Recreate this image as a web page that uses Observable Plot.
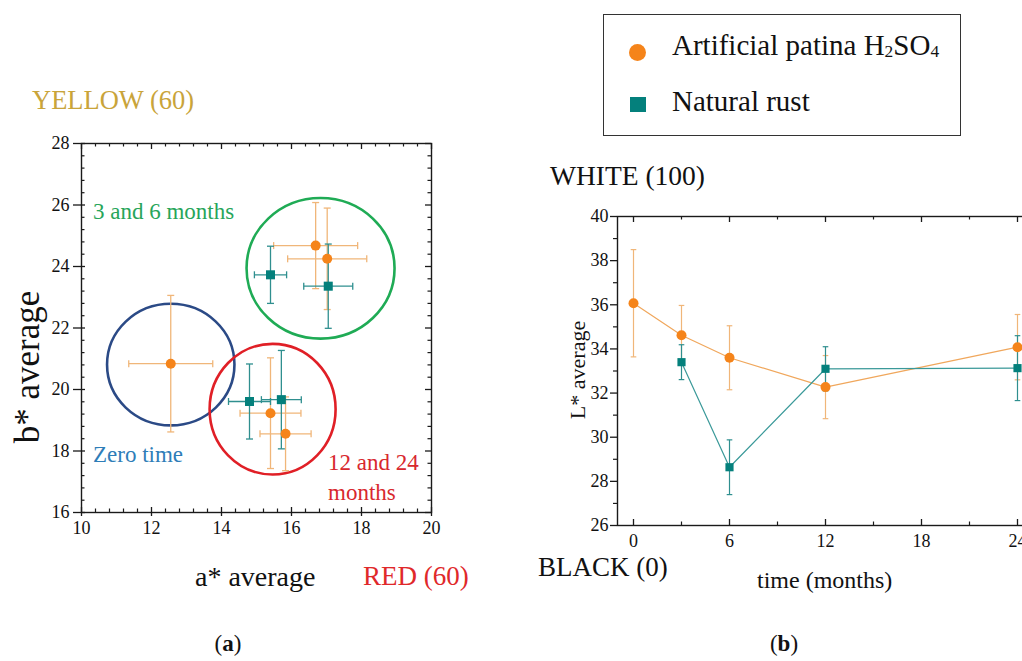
<!DOCTYPE html>
<html><head><meta charset="utf-8">
<script src="https://cdn.jsdelivr.net/npm/d3@7"></script>
<script src="https://cdn.jsdelivr.net/npm/@observablehq/plot@0.6"></script>
<style>
html,body{margin:0;padding:0;background:#fff;overflow:hidden}
#wrap{position:relative;width:1022px;height:661px;overflow:hidden;font-family:"Liberation Serif",serif;color:#111}
#wrap svg{position:absolute}
.lbl{position:absolute;white-space:nowrap;line-height:1}
.lbl sub{font-size:0.6em;vertical-align:-0.12em;line-height:0}
</style></head><body><div id="wrap"></div>
<script>
// ---------- Panel (a): b* vs a* ----------
const xTicksA = [10, 12, 14, 16, 18, 20];
const yTicksA = [16, 18, 20, 22, 24, 26, 28];
// Artificial patina H2SO4 (0, 3, 6, 12, 24 months)
const artA    = [12.55, 16.69, 17.02, 15.40, 15.83];
const artB    = [20.84, 24.68, 24.25, 19.23, 18.56];
const artAErr = [1.20, 1.20, 1.13, 0.87, 0.73];
const artBErr = [2.22, 1.40, 1.65, 1.80, 1.20];
// Natural rust (3, 6, 12, 24 months)
const natA    = [15.40, 17.05, 14.80, 15.71];
const natB    = [23.73, 23.36, 19.61, 19.67];
const natAErr = [0.46, 0.70, 0.60, 0.57];
const natBErr = [0.93, 1.37, 1.22, 1.60];
// Group outlines
const groupNames = ["Zero time", "3 and 6 months", "12 and 24 months"];
const groupA = [12.55, 16.83, 15.46];
const groupB = [20.81, 23.94, 19.36];

// ---------- Panel (b): L* vs time ----------
const xTicksB = [0, 6, 12, 18, 24];
const yTicksB = [26, 28, 30, 32, 34, 36, 38, 40];
const artT = [0, 3, 6, 12, 24];
const artL = [36.07, 34.62, 33.60, 32.27, 34.08];
const artLErr = [2.43, 1.35, 1.45, 1.43, 1.48];
const natT = [3, 6, 12, 24];
const natL = [33.40, 28.64, 33.10, 33.13];
const natLErr = [0.79, 1.24, 1.00, 1.47];

const seriesNames = ["Artificial patina H2SO4", "Natural rust"];

// ---------- styles ----------
const ORANGE = "#f5841a", ORANGE_BAR = "#f0b679", ORANGE_LINE = "#f0a75c";
const TEAL = "#04807c", TEAL_BAR = "#2f8f8f", TEAL_LINE = "#3a9999";
const TICK_FONT = 18;
const groupStyle = {
  "Zero time": {stroke: "#2b4a86", rx: 63.7, ry: 60.8},
  "3 and 6 months": {stroke: "#1fab55", rx: 74, ry: 70.3},
  "12 and 24 months": {stroke: "#e01f26", rx: 63, ry: 65.3}
};

function ellipseSymbol(rx, ry) {
  const k = 0.5522847498;
  return {draw(ctx) {
    ctx.moveTo(rx, 0);
    ctx.bezierCurveTo(rx, ry * k, rx * k, ry, 0, ry);
    ctx.bezierCurveTo(-rx * k, ry, -rx, ry * k, -rx, 0);
    ctx.bezierCurveTo(-rx, -ry * k, -rx * k, -ry, 0, -ry);
    ctx.bezierCurveTo(rx * k, -ry, rx, -ry * k, rx, 0);
    ctx.closePath();
  }};
}
const capH = {draw(ctx, size) { const r = Math.sqrt(size / Math.PI); ctx.moveTo(-r, 0); ctx.lineTo(r, 0); }};
const capV = {draw(ctx, size) { const r = Math.sqrt(size / Math.PI); ctx.moveTo(0, -r); ctx.lineTo(0, r); }};

const artRowsA = artA.map((a, i) => ({a, b: artB[i], ea: artAErr[i], eb: artBErr[i]}));
const natRowsA = natA.map((a, i) => ({a, b: natB[i], ea: natAErr[i], eb: natBErr[i]}));
const groupRows = groupNames.map((name, i) => ({name, a: groupA[i], b: groupB[i]}));

function errMarksA(rows, color, cap) {
  return [
    Plot.link(rows, {x1: d => d.a - d.ea, x2: d => d.a + d.ea, y1: "b", y2: "b", stroke: color, strokeWidth: 1.3}),
    Plot.link(rows, {x1: "a", x2: "a", y1: d => d.b - d.eb, y2: d => d.b + d.eb, stroke: color, strokeWidth: 1.3}),
    Plot.dot(rows, {x: d => d.a - d.ea, y: "b", symbol: capV, r: cap, stroke: color, fill: "none", strokeWidth: 1.3}),
    Plot.dot(rows, {x: d => d.a + d.ea, y: "b", symbol: capV, r: cap, stroke: color, fill: "none", strokeWidth: 1.3}),
    Plot.dot(rows, {x: "a", y: d => d.b - d.eb, symbol: capH, r: cap, stroke: color, fill: "none", strokeWidth: 1.3}),
    Plot.dot(rows, {x: "a", y: d => d.b + d.eb, symbol: capH, r: cap, stroke: color, fill: "none", strokeWidth: 1.3})
  ];
}

const mTop = 143, mLeft = 81, wA = 460, hA = 545, innerWA = 350, innerHA = 369;
const minorXA = d3.range(0, 26).map(i => 10 + i * 0.4).filter((v, i) => i % 5 !== 0);
const minorYA = d3.range(0, 31).map(i => 16 + i * 0.4).filter((v, i) => i % 5 !== 0);
const AX = "#1a1a1a";

const plotA = Plot.plot({
  width: wA, height: hA,
  marginLeft: mLeft, marginRight: wA - mLeft - innerWA, marginTop: mTop, marginBottom: hA - mTop - innerHA,
  x: {domain: [10, 20]},
  y: {domain: [16, 28]},
  style: {fontFamily: "Liberation Serif", fontSize: TICK_FONT + "px", color: "#111", background: "transparent", overflow: "visible"},
  marks: [
    Plot.frame({stroke: AX, strokeWidth: 1.4}),
    // inner ticks
    Plot.tickX(minorXA, {x: d => d, insetTop: innerHA - 3.5, stroke: AX, strokeWidth: 1.2}),
    Plot.tickX(minorXA, {x: d => d, insetBottom: innerHA - 3.5, stroke: AX, strokeWidth: 1.2}),
    Plot.tickX(xTicksA, {x: d => d, insetTop: innerHA - 5, stroke: AX, strokeWidth: 1.3}),
    Plot.tickX(xTicksA, {x: d => d, insetBottom: innerHA - 6, stroke: AX, strokeWidth: 1.3}),
    Plot.tickY(minorYA, {y: d => d, insetRight: innerWA - 3.5, stroke: AX, strokeWidth: 1.2}),
    Plot.tickY(minorYA, {y: d => d, insetLeft: innerWA - 3.5, stroke: AX, strokeWidth: 1.2}),
    Plot.tickY(yTicksA, {y: d => d, insetRight: innerWA - 4, stroke: AX, strokeWidth: 1.3}),
    Plot.tickY(yTicksA, {y: d => d, insetLeft: innerWA - 6, stroke: AX, strokeWidth: 1.3}),
    Plot.axisX({ticks: xTicksA, tickSize: 4, tickPadding: 5, label: null, fontSize: TICK_FONT, stroke: AX, strokeWidth: 1.3}),
    Plot.axisY({ticks: yTicksA, tickSize: 8, tickPadding: 4, label: null, fontSize: TICK_FONT, stroke: AX, strokeWidth: 1.3}),
    // group outlines
    ...groupRows.map(g => Plot.dot([g], {x: "a", y: "b", symbol: ellipseSymbol(groupStyle[g.name].rx, groupStyle[g.name].ry), r: 10, stroke: groupStyle[g.name].stroke, strokeWidth: 2.6, fill: "none"})),
    ...errMarksA(artRowsA, ORANGE_BAR, 3.5),
    ...errMarksA(natRowsA, TEAL_BAR, 3.5),
    Plot.dot(artRowsA, {x: "a", y: "b", r: 5, symbol: "circle", fill: ORANGE}),
    Plot.dot(natRowsA, {x: "a", y: "b", r: 5.1, symbol: "square", fill: TEAL})
  ]
});
plotA.style.left = "0px"; plotA.style.top = "0px";

// ---------- Panel (b) ----------
const bLeft = 560, bTop = 190, mLeftB = 57, mTopB = 26, innerWB = 416, innerHB = 309;
const wB = mLeftB + innerWB + 10, hB = mTopB + innerHB + 30;
const minorXB = [3, 9, 15, 21];
const minorYB = [27, 29, 31, 33, 35, 37, 39];
const artRowsB = artT.map((t, i) => ({t, L: artL[i], e: artLErr[i]}));
const natRowsB = natT.map((t, i) => ({t, L: natL[i], e: natLErr[i]}));
function errMarksB(rows, color) {
  return [
    Plot.link(rows, {x1: "t", x2: "t", y1: d => d.L - d.e, y2: d => d.L + d.e, stroke: color, strokeWidth: 1.2}),
    Plot.dot(rows, {x: "t", y: d => d.L - d.e, symbol: capH, r: 2.8, stroke: color, fill: "none", strokeWidth: 1.2}),
    Plot.dot(rows, {x: "t", y: d => d.L + d.e, symbol: capH, r: 2.8, stroke: color, fill: "none", strokeWidth: 1.2})
  ];
}
const plotB = Plot.plot({
  width: wB, height: hB,
  marginLeft: mLeftB, marginRight: 10, marginTop: mTopB, marginBottom: hB - mTopB - innerHB,
  x: {domain: [-1, 25]},
  y: {domain: [26, 40]},
  style: {fontFamily: "Liberation Serif", fontSize: TICK_FONT + "px", color: "#111", background: "transparent", overflow: "visible"},
  marks: [
    Plot.frame({stroke: AX, strokeWidth: 1.4}),
    Plot.tickX(xTicksB, {x: d => d, insetTop: innerHB - 6, stroke: AX, strokeWidth: 1.3}),
    Plot.tickX(xTicksB, {x: d => d, insetBottom: innerHB - 6, stroke: AX, strokeWidth: 1.3}),
    Plot.tickX(minorXB, {x: d => d, insetTop: innerHB - 3.5, stroke: AX, strokeWidth: 1.2}),
    Plot.tickX(minorXB, {x: d => d, insetBottom: innerHB - 3.5, stroke: AX, strokeWidth: 1.2}),
    Plot.axisY(minorYB, {tickSize: 4, text: null, label: null, stroke: AX, strokeWidth: 1.2}),
    Plot.axisY({ticks: yTicksB, tickSize: 7, tickPadding: 2, label: null, fontSize: TICK_FONT, stroke: AX, strokeWidth: 1.3}),
    Plot.axisX({ticks: xTicksB, tickSize: 0, tickPadding: 9, label: null, fontSize: TICK_FONT}),
    Plot.line(artRowsB, {x: "t", y: "L", stroke: ORANGE_LINE, strokeWidth: 1.2}),
    Plot.line(natRowsB, {x: "t", y: "L", stroke: TEAL_LINE, strokeWidth: 1.2}),
    ...errMarksB(artRowsB, ORANGE_BAR),
    ...errMarksB(natRowsB, TEAL_BAR),
    Plot.dot(artRowsB, {x: "t", y: "L", r: 5, symbol: "circle", fill: ORANGE}),
    Plot.dot(natRowsB, {x: "t", y: "L", r: 4.6, symbol: "square", fill: TEAL})
  ]
});
plotB.style.left = bLeft + "px"; plotB.style.top = bTop + "px";

const W = document.getElementById("wrap");
W.appendChild(plotA);
W.appendChild(plotB);

// ---------- HTML text ----------
function label(html, x, baseline, size, color = "#111", anchor = "start") {
  const d = document.createElement("div");
  d.className = "lbl";
  d.innerHTML = html;
  d.style.fontSize = size + "px";
  d.style.color = color;
  d.style.left = x + "px";
  d.style.top = (baseline - 0.8375 * size) + "px";
  if (anchor === "middle") d.style.transform = "translateX(-50%)";
  W.appendChild(d);
  return d;
}
function vlabel(html, cx, cy, size, color = "#111") {
  const d = document.createElement("div");
  d.className = "lbl";
  d.innerHTML = html;
  d.style.fontSize = size + "px";
  d.style.color = color;
  d.style.left = cx + "px";
  d.style.top = cy + "px";
  d.style.transform = "translate(-50%,-50%) rotate(-90deg)";
  W.appendChild(d);
  return d;
}

label("YELLOW (60)", 32, 109, 26.5, "#c9a43a");
label(groupNames[1], 93, 219, 23, "#27a55a");
label(groupNames[0], 93, 462.5, 23, "#2e7db8");
label("12 and 24", 328, 470, 23, "#d8282e");
label("months", 328, 500, 23, "#d8282e");
vlabel("b* average", 27, 367, 35);
label("a* average", 195, 586, 28);
label("RED (60)", 363, 586, 27, "#e0282a");
label("(<b>a</b>)", 228, 651, 23, "#111", "middle");

label("WHITE (100)", 550, 185, 27.5);
label("BLACK (0)", 538, 577, 27);
label("time (months)", 757, 588, 24);
vlabel("L* average", 578, 370, 22);
label("(<b>b</b>)", 784, 651, 23, "#111", "middle");

// legend
const box = document.createElement("div");
Object.assign(box.style, {position: "absolute", left: "603px", top: "14px", width: "358px", height: "122px", border: "1.5px solid #333", boxSizing: "border-box"});
W.appendChild(box);
const c = document.createElement("div");
Object.assign(c.style, {position: "absolute", left: "629px", top: "43.5px", width: "17.4px", height: "17.4px", borderRadius: "50%", background: ORANGE});
W.appendChild(c);
const s = document.createElement("div");
Object.assign(s.style, {position: "absolute", left: "629.5px", top: "96.5px", width: "16px", height: "15px", background: TEAL});
W.appendChild(s);
label("Artificial patina H<sub>2</sub>SO<sub>4</sub>", 672, 55, 29);
label(seriesNames[1], 672, 111.5, 29);
</script>
</body></html>
